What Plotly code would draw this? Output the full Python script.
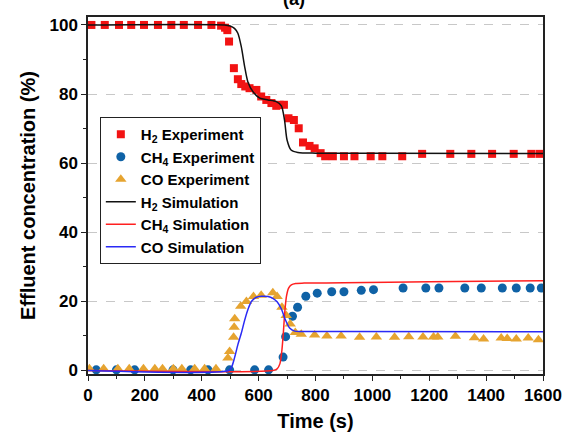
import plotly.graph_objects as go

# ---- data ----
h2_exp_t = [12, 59, 109, 152, 197, 246, 293, 337, 387, 434, 468, 482, 490, 496, 513, 527, 539, 553, 568,
            592, 609, 627, 645, 662, 674, 689, 705, 724, 741, 756, 779, 797, 818, 834, 861, 900, 937, 994,
            1035, 1105, 1175, 1274, 1348, 1421, 1497, 1559, 1588]
h2_exp_y = [100, 100, 100, 100, 100, 100, 100, 100, 100, 100, 99.8, 99.2, 98.5, 95.2, 87.5, 84.3, 82.9, 82.2, 81.7,
            81.2, 79.3, 78.3, 77.4, 76.6, 76.9, 76.9, 73.0, 72.5, 70.1, 66.0, 65.0, 64.3, 62.9, 62.0, 62.0, 62.0, 62.0, 62.0,
            62.0, 62.0, 62.7, 62.7, 62.7, 62.7, 62.7, 62.7, 62.7]

ch4_exp_t = [29, 100, 164, 299, 361, 422, 498, 586, 635, 686, 695, 719, 737, 766, 806, 857, 900, 961, 1004,
             1108, 1188, 1234, 1325, 1383, 1457, 1506, 1555, 1594]
ch4_exp_y = [0.2, 0.2, 0.2, 0.2, 0.2, 0.2, 0.2, 0.2, 0.2, 3.9, 9.8, 15.7, 18.3, 21.5, 22.4, 22.8, 22.8, 23.2, 23.4,
             23.9, 23.9, 23.9, 23.9, 23.9, 23.9, 23.9, 23.9, 23.9]

co_exp_t = [5, 55, 105, 145, 195, 235, 262, 300, 330, 375, 410, 450, 492, 498, 512, 514, 516, 537, 557, 582,
            609, 650, 665, 682, 697, 711, 729, 750, 797, 840, 890, 955, 1014, 1078, 1128, 1178, 1215, 1230,
            1292, 1359, 1391, 1453, 1474, 1506, 1548, 1584]
co_exp_y = [0.5, 0.5, 0.5, 0.5, 0.5, 0.5, 0.5, 0.5, 0.5, 0.5, 0.5, 0.5, 3.6, 5.5, 9.6, 12.5, 15.0, 18.6, 20.0, 21.4,
            21.8, 22.5, 21.4, 18.3, 15.9, 13.5, 11.0, 10.5, 10.3, 10.0, 10.0, 9.6, 9.7, 9.6, 9.8, 9.7, 9.7, 9.7,
            9.9, 9.5, 9.1, 9.4, 9.3, 9.1, 9.4, 8.9]

h2_sim_t = [0, 480, 500, 515, 527, 539, 551, 562, 580, 604, 633, 662, 680, 691, 700, 714, 738, 800, 1000, 1600]
h2_sim_y = [100, 100, 99.7, 99.0, 97.6, 93.7, 87.9, 83.6, 80.7, 78.8, 78.3, 77.8, 76.6, 72.5, 66.7, 63.8, 63.1, 62.9, 62.9, 62.8]

ch4_sim_t = [0, 650, 665, 675, 682, 687, 692, 698, 705, 715, 730, 760, 900, 1200, 1600]
ch4_sim_y = [0, 0, 0.5, 2.0, 6.0, 11.0, 17.0, 21.5, 23.8, 24.8, 25.2, 25.3, 25.4, 25.7, 26.0]

co_sim_t = [0, 495, 505, 515, 527, 539, 551, 563, 576, 592, 610, 633, 650, 665, 680, 694, 709, 727, 750, 900, 1600]
co_sim_y = [0, 0, 1.0, 3.6, 7.5, 10.8, 14.6, 17.8, 20.1, 21.2, 21.5, 21.4, 20.9, 19.9, 17.8, 14.7, 12.3, 11.4, 11.3, 11.3, 11.2]

x_ticks = [0, 200, 400, 600, 800, 1000, 1200, 1400, 1600]
y_ticks = [0, 20, 40, 60, 80, 100]

FONT = "Arial, Liberation Sans, sans-serif"

fig = go.Figure()
fig.add_trace(go.Scatter(x=h2_exp_t, y=h2_exp_y, mode="markers", name="H<sub>2</sub> Experiment",
                         marker=dict(symbol="square", size=8, color="#F21313")))
fig.add_trace(go.Scatter(x=ch4_exp_t, y=ch4_exp_y, mode="markers", name="CH<sub>4</sub> Experiment",
                         marker=dict(symbol="circle", size=9, color="#0F62A6")))
fig.add_trace(go.Scatter(x=co_exp_t, y=co_exp_y, mode="markers", name="CO Experiment",
                         marker=dict(symbol="triangle-up", size=10, color="#E6A430")))
fig.add_trace(go.Scatter(x=h2_sim_t, y=h2_sim_y, mode="lines", name="H<sub>2</sub> Simulation",
                         line=dict(color="#111111", width=1.5, shape="spline", smoothing=0.7)))
fig.add_trace(go.Scatter(x=ch4_sim_t, y=ch4_sim_y, mode="lines", name="CH<sub>4</sub> Simulation",
                         line=dict(color="#FF2020", width=1.5, shape="spline", smoothing=0.7)))
fig.add_trace(go.Scatter(x=co_sim_t, y=co_sim_y, mode="lines", name="CO Simulation",
                         line=dict(color="#2A2AF5", width=1.5, shape="spline", smoothing=0.7)))

axis_common = dict(
    showline=True, linecolor="#222222", linewidth=1.5, mirror=True,
    ticks="outside", ticklen=5, tickwidth=1.3, tickcolor="#222222",
    tickfont=dict(family=FONT, size=17, color="black", weight="bold"),
    zeroline=False, automargin=False,
)

fig.update_layout(
    width=563, height=440,
    margin=dict(l=88, r=20, t=17, b=66),
    paper_bgcolor="white", plot_bgcolor="white",
    font=dict(family=FONT, color="black"),
    xaxis=dict(range=[0, 1600], tickvals=x_ticks, showgrid=False,
               title=dict(text="<b>Time (s)</b>", font=dict(family=FONT, size=20, color="black"), standoff=10),
               minor=dict(dtick=100, tick0=0, ticks="outside", ticklen=3, tickcolor="#222222", showgrid=False),
               **axis_common),
    yaxis=dict(range=[-1, 102.3], tickvals=y_ticks, showgrid=True, gridcolor="#C8C8C8",
               griddash="dash", gridwidth=1.2,
               title=dict(text="<b>Effluent concentration (%)</b>", font=dict(family=FONT, size=20, color="black"), standoff=8),
               minor=dict(dtick=10, tick0=0, ticks="outside", ticklen=3, tickcolor="#222222", showgrid=False),
               **axis_common),
    legend=dict(x=0.026, y=0.72, xanchor="left", yanchor="top",
                bgcolor="white", bordercolor="#222222", borderwidth=1,
                font=dict(family=FONT, size=15, color="black", weight="bold"),
                itemwidth=30, tracegroupgap=0),
    showlegend=True,
)

fig.add_annotation(text="<b>(a)</b>", xref="paper", yref="paper", x=0.453, y=1.05,
                   showarrow=False, font=dict(family=FONT, size=18, color="black"),
                   xanchor="center", yanchor="middle")

fig.write_html("out.html", config={"displayModeBar": False},
               post_script="document.body.style.margin='0';document.body.style.overflow='hidden';")
